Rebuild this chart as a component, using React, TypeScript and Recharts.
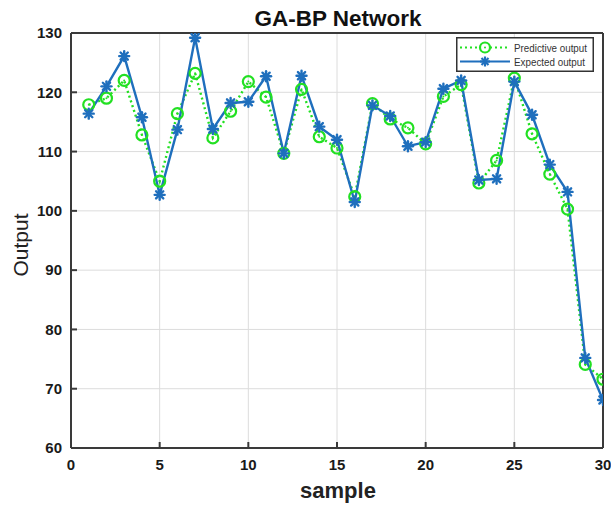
import React from 'react';
import { LineChart, Line, XAxis, YAxis, CartesianGrid, ReferenceLine } from 'recharts';

const samples = [1,2,3,4,5,6,7,8,9,10,11,12,13,14,15,16,17,18,19,20,21,22,23,24,25,26,27,28,29,30];
const predictive = [117.9,119.0,122.0,112.8,105.0,116.4,123.2,112.3,116.8,121.8,119.2,109.7,120.5,112.5,110.6,102.4,118.1,115.5,114.0,111.3,119.3,121.3,104.7,108.5,122.4,113.0,106.2,100.3,74.1,71.6];
const expected = [116.4,121.0,126.1,115.8,102.7,113.7,129.2,113.8,118.2,118.4,122.7,109.7,122.8,114.2,112.0,101.5,117.8,116.0,110.9,111.6,120.6,122.0,105.2,105.4,121.8,116.2,107.8,103.2,75.2,68.1];
const xTicks = [0,5,10,15,20,25,30];
const yTicks = [60,70,80,90,100,110,120,130];

const data = samples.map((s, i) => ({ x: s, pred: predictive[i], exp: expected[i] }));

const GREEN = '#22e022';
const BLUE = '#1f6fbd';
const FONT = '"Liberation Sans", Arial, sans-serif';

const CircleDot = (p: any) => {
  const { cx, cy } = p;
  if (cx == null || cy == null) return <g />;
  return (
    <g>
      <circle cx={cx} cy={cy} r={5.5} fill="none" stroke={GREEN} strokeWidth={2.2} />
      <circle cx={cx} cy={cy} r={1} fill={GREEN} />
    </g>
  );
};

const StarDot = (p: any) => {
  const { cx, cy } = p;
  if (cx == null || cy == null) return <g />;
  const s = 5;
  const d = 3.6;
  return (
    <g stroke={BLUE} strokeWidth={2.4} strokeLinecap="round">
      <line x1={cx - s} y1={cy} x2={cx + s} y2={cy} />
      <line x1={cx} y1={cy - s} x2={cx} y2={cy + s} />
      <line x1={cx - d} y1={cy - d} x2={cx + d} y2={cy + d} />
      <line x1={cx - d} y1={cy + d} x2={cx + d} y2={cy - d} />
      <circle cx={cx} cy={cy} r={2.5} fill={BLUE} stroke="none" />
    </g>
  );
};

const LegendBox = () => (
  <svg width={138} height={35} style={{ display: 'block' }}>
    <rect x={0.75} y={0.75} width={136.5} height={33.5} fill="#fff" stroke="#333" strokeWidth={1.5} />
    <line x1={4} y1={10.5} x2={54} y2={10.5} stroke={GREEN} strokeWidth={2.2} strokeDasharray="2 3" />
    <circle cx={29} cy={10.5} r={5} fill="#fff" stroke={GREEN} strokeWidth={2.2} />
    <circle cx={29} cy={10.5} r={1} fill={GREEN} />
    <text x={58} y={14.5} fontFamily={FONT} fontSize={10.5} fill="#333" textLength={73} lengthAdjust="spacingAndGlyphs">Predictive output</text>
    <line x1={4} y1={24.5} x2={54} y2={24.5} stroke={BLUE} strokeWidth={2.2} />
    <g stroke={BLUE} strokeWidth={2.2}>
      <line x1={24} y1={24.5} x2={34} y2={24.5} />
      <line x1={29} y1={19.5} x2={29} y2={29.5} />
      <line x1={25.5} y1={21} x2={32.5} y2={28} />
      <line x1={25.5} y1={28} x2={32.5} y2={21} />
    </g>
    <text x={58} y={28.5} fontFamily={FONT} fontSize={10.5} fill="#333" textLength={71} lengthAdjust="spacingAndGlyphs">Expected output</text>
  </svg>
);

export default function App() {
  return (
    <div style={{ position: 'absolute', left: 0, top: 0, width: 611, height: 509, overflow: 'hidden', background: '#fff' }}>
      <LineChart width={611} height={509} data={data} margin={{ top: 33, right: 8, bottom: 0, left: 0 }}>
        <CartesianGrid stroke="#dcdcdc" strokeWidth={1} />
        <XAxis
          dataKey="x"
          type="number"
          domain={[0, 30]}
          ticks={xTicks}
          height={61}
          stroke="#3a3a3a"
          strokeWidth={2}
          tickSize={-6}
          tickMargin={17}
          tick={{ fill: '#1a1a1a', fontSize: 15, fontFamily: FONT, fontWeight: 'bold' }}
          allowDataOverflow
        />
        <YAxis
          type="number"
          domain={[60, 130]}
          ticks={yTicks}
          width={71}
          stroke="#3a3a3a"
          strokeWidth={2}
          tickSize={-6}
          tickMargin={15}
          tick={{ fill: '#1a1a1a', fontSize: 15, fontFamily: FONT, fontWeight: 'bold' }}
          allowDataOverflow
        />
        <ReferenceLine y={130} stroke="#3a3a3a" strokeWidth={2} ifOverflow="visible" />
        <ReferenceLine x={30} stroke="#3a3a3a" strokeWidth={2} ifOverflow="visible" />
        <Line
          dataKey="pred"
          stroke={GREEN}
          strokeWidth={2.4}
          strokeDasharray="2 3"
          dot={<CircleDot />}
          isAnimationActive={false}
        />
        <Line
          dataKey="exp"
          stroke={BLUE}
          strokeWidth={2.4}
          dot={<StarDot />}
          isAnimationActive={false}
        />
      </LineChart>
      <div style={{ position: 'absolute', left: 456, top: 37 }}>
        <LegendBox />
      </div>
      <svg width={611} height={509} style={{ position: 'absolute', left: 0, top: 0, pointerEvents: 'none' }}>
        <text x={338} y={26} textAnchor="middle" fontFamily={FONT} fontWeight="bold" fontSize={22.5} fill="#111">GA-BP Network</text>
        <text x={338} y={498} textAnchor="middle" fontFamily={FONT} fontWeight="bold" fontSize={22} fill="#222">sample</text>
        <text x={28} y={245} textAnchor="middle" fontFamily={FONT} fontSize={21} fill="#222" transform="rotate(-90 28 245)">Output</text>
      </svg>
    </div>
  );
}
